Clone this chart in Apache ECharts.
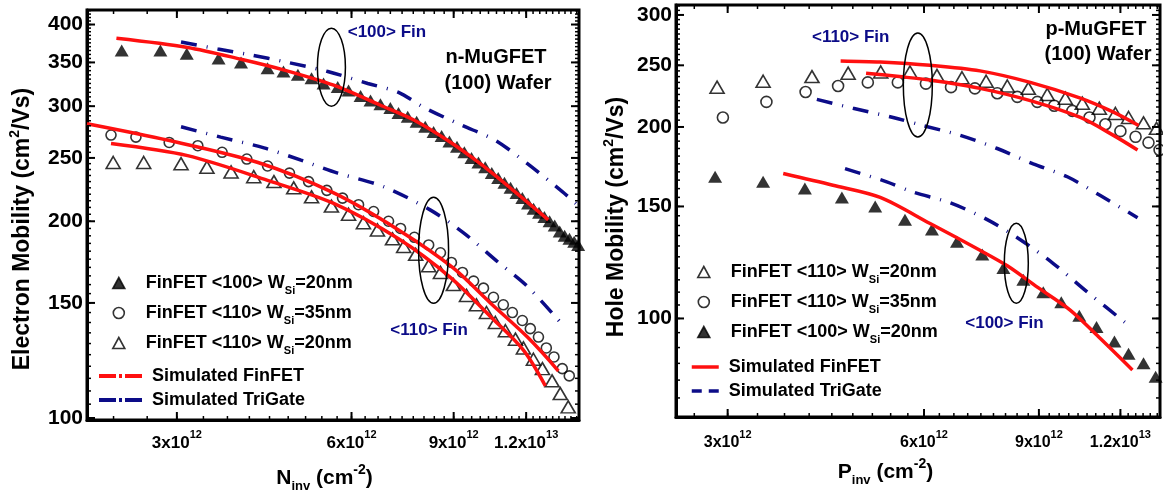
<!DOCTYPE html>
<html>
<head>
<meta charset="utf-8">
<title>MuGFET mobility</title>
<script src="https://cdn.jsdelivr.net/npm/echarts@6/dist/echarts.min.js"></script>
<style>
    html, body { margin: 0; padding: 0; background: #fff; }
    #chart { width: 1163px; height: 493px; }
</style>
</head>
<body>
<div id="chart"></div>
<script>
'use strict';

// x: inversion charge in 1e12 cm^-2, y: mobility in cm2/Vs

// ---- left panel, electrons ----
var nMeasFin100W20 = [[2.41, 365], [2.81, 365], [3.12, 361], [3.54, 355], [3.87, 350], [4.30, 343], [4.58, 339], [4.85, 335],
    [5.12, 331], [5.37, 325], [5.68, 321], [5.93, 317], [6.22, 311], [6.47, 306], [6.73, 302], [7.00, 298], [7.23, 293],
    [7.50, 289], [7.77, 284], [8.04, 279], [8.31, 274], [8.58, 270], [8.85, 265], [9.12, 260], [9.39, 255], [9.66, 250],
    [9.93, 246], [10.2, 242], [10.47, 237], [10.74, 233], [11.01, 229], [11.28, 225], [11.55, 221], [11.82, 217],
    [12.09, 213], [12.36, 209], [12.63, 206], [12.9, 203], [13.17, 200], [13.44, 197], [13.71, 193], [13.98, 190],
    [14.25, 188], [14.52, 186], [14.75, 184]];
var nMeasFin110W35 = [[2.31, 271], [2.55, 269], [2.91, 264], [3.26, 261], [3.59, 255], [3.96, 249], [4.30, 243], [4.69, 237],
    [5.06, 230], [5.44, 223], [5.79, 217], [6.17, 212], [6.55, 207], [6.95, 200], [7.29, 195], [7.70, 189], [8.15, 184],
    [8.54, 179], [8.92, 173], [9.32, 167], [9.74, 162], [10.13, 158], [10.54, 153], [10.96, 149], [11.36, 145],
    [11.82, 141], [12.2, 137], [12.6, 133], [13.0, 128], [13.4, 124], [13.85, 119], [14.24, 116]];
var nMeasFin110W20 = [[2.33, 246], [2.63, 246], [3.05, 245], [3.38, 242], [3.72, 238], [4.07, 234], [4.41, 230], [4.77, 225],
    [5.12, 218], [5.54, 211], [5.93, 205], [6.29, 199], [6.65, 194], [7.06, 188], [7.38, 183], [7.74, 178], [8.15, 171],
    [8.54, 167], [8.99, 160], [9.47, 154], [9.85, 149], [10.25, 145], [10.62, 140], [11.05, 136], [11.5, 132],
    [11.87, 128], [12.35, 123], [12.8, 119], [13.3, 114], [13.74, 109], [14.18, 104]];
var nSimFin100 = [[2.36, 381], [3.13, 369], [3.87, 354], [4.58, 341], [5.59, 323], [6.73, 301], [7.67, 286], [8.78, 266],
    [10.0, 245], [11.4, 223], [13.1, 201]];
var nSimFin110W35 = [[2.1, 282], [2.90, 266], [4.14, 246], [5.59, 221], [7.23, 194], [8.96, 170], [10.41, 150], [12.06, 133],
    [13.64, 118]];
var nSimFin110W20 = [[2.31, 263], [3.13, 252], [4.30, 231], [5.59, 213], [7.23, 188], [8.89, 164], [10.41, 143], [11.87, 127],
    [12.95, 112]];
var nSimTri100 = [[3.05, 376], [3.53, 367], [3.98, 360], [4.66, 350], [5.46, 339], [6.40, 325], [7.23, 315], [7.98, 299],
    [9.25, 281], [10.62, 266], [12.06, 245], [13.85, 222], [14.7, 212]];
var nSimTri110 = [[3.05, 279], [3.57, 269], [4.24, 259], [4.91, 248], [5.68, 237], [6.81, 226], [8.21, 208], [9.36, 192],
    [10.75, 173], [12.06, 159], [13.85, 139]];

// ---- right panel, holes ----
var pMeasFin110W20 = [[2.89, 231], [3.40, 236], [4.04, 240], [4.59, 243], [5.15, 244], [5.71, 244], [6.28, 241], [6.86, 239],
    [7.47, 236], [8.05, 232], [8.67, 230], [9.27, 225], [9.88, 222], [10.49, 218], [11.14, 214], [11.79, 210],
    [12.35, 207], [13.02, 203], [13.63, 199]];
var pMeasFin110W35 = [[2.95, 207], [3.44, 219], [3.95, 227], [4.43, 232], [4.92, 235], [5.47, 235], [6.04, 234], [6.60, 231],
    [7.18, 230], [7.77, 226], [8.34, 223], [8.95, 219], [9.50, 216], [10.13, 212], [10.76, 207], [11.38, 202],
    [12.0, 197], [12.66, 193], [13.25, 189], [13.78, 184]];
var pMeasFin100W20 = [[2.87, 167], [3.40, 164], [3.94, 160], [4.49, 155], [5.05, 150], [5.61, 143], [6.17, 138], [6.74, 132],
    [7.37, 126], [7.94, 120], [8.52, 115], [9.14, 110], [9.74, 106], [10.38, 101], [11.03, 97], [11.75, 92],
    [12.35, 88], [13.02, 85], [13.59, 81]];
var pSimFin110W20 = [[4.47, 254], [5.14, 253], [6.13, 250], [7.31, 245], [8.73, 235], [10.42, 222], [11.71, 211], [12.8, 201]];
var pSimFin110W35 = [[4.89, 243], [5.5, 240], [6.13, 237], [7.31, 230], [8.73, 220], [10.42, 207], [11.71, 194], [12.75, 184]];
var pSimFin100 = [[3.65, 169], [4.35, 162], [5.14, 155], [6.13, 141], [7.31, 128], [8.05, 121], [8.95, 112], [10.06, 103],
    [11.18, 93], [12.52, 83]];
var pSimTri110 = [[4.11, 221], [4.67, 214], [5.38, 207], [5.98, 201], [6.82, 194], [7.77, 185], [8.82, 175], [9.95, 167],
    [11.18, 156], [12.75, 144]];
var pSimTri100 = [[4.54, 172], [5.26, 164], [5.77, 158], [6.58, 152], [7.50, 143], [8.43, 133], [9.47, 122], [10.68, 110],
    [12.44, 97]];

// tick values (real units)
var xTicks = [3, 6, 9, 12];
var yTicksN = [100, 150, 200, 250, 300, 350, 400];
var yTicksP = [100, 150, 200, 250, 300];

var FONT = '"Liberation Sans", Arial, sans-serif';
var RED = '#ff1010';
var NAVY = '#0c0c88';
var TRI_DASH = [16, 10, 1, 10];

var NAME_100_20 = 'FinFET <100> W_Si=20nm';
var NAME_110_35 = 'FinFET <110> W_Si=35nm';
var NAME_110_20 = 'FinFET <110> W_Si=20nm';
var NAME_SIM_FIN = 'Simulated FinFET';
var NAME_SIM_TRI = 'Simulated TriGate';

// both axes are logarithmic: the value axes work on log10 of the data
function lg(v) { return Math.log(v) / Math.LN10; }
function lgAll(list) { return list.map(lg); }
function lgPts(pts) {
    return pts.map(function (p) { return [lg(p[0]), lg(p[1])]; });
}

// minor ticks every 1/3 x 1e12 and every 5 cm2/Vs
var xMinor = [];
for (var k = 7; k <= 44; k++) { xMinor.push(k / 3); }
var yMinorN = [];
for (var v = 100; v <= 420; v += 5) { yMinorN.push(v); }
var yMinorP = [];
for (var w = 70; w <= 310; w += 5) { yMinorP.push(w); }

function xLabel(val) {
    var n = Math.round(Math.pow(10, val));
    if (n >= 10) {
        return (n / 10) + 'x10{sup|13}';
    }
    return n + 'x10{sup|12}';
}

function yLabel(val) {
    return String(Math.round(Math.pow(10, val)));
}

var supStyle = { fontSize: 11, fontWeight: 'bold', fontFamily: FONT, lineHeight: 11, verticalAlign: 'top', color: '#000' };

function nameStyle(size, padding) {
    return {
        color: '#000', fontSize: size, fontWeight: 'bold', fontFamily: FONT, lineHeight: 30, padding: padding,
        rich: {
            sub: { fontSize: 13, fontWeight: 'bold', fontFamily: FONT, lineHeight: 13, verticalAlign: 'bottom', color: '#000' },
            sup: { fontSize: 14, fontWeight: 'bold', fontFamily: FONT, lineHeight: 14, verticalAlign: 'top', color: '#000' }
        }
    };
}

function logAxis(grid, range, label, name, nameGap, nameText) {
    return {
        type: 'value',
        gridIndex: grid,
        min: lg(range[0]),
        max: lg(range[1]),
        axisLine: { show: true, onZero: false, lineStyle: { color: '#000', width: 3 } },
        // ticks are drawn below as graphic lines (major + minor, on all four sides)
        axisTick: { show: false },
        axisLabel: label,
        splitLine: { show: false },
        axisPointer: { show: false },
        name: name,
        nameLocation: 'middle',
        nameGap: nameGap,
        nameMoveOverlap: false,
        nameTextStyle: nameText
    };
}

function xLabelOpt(size, margin) {
    return {
        show: true, customValues: lgAll(xTicks), formatter: xLabel, margin: margin,
        color: '#000', fontSize: size, fontWeight: 'bold', fontFamily: FONT, lineHeight: 28,
        rich: { sup: supStyle }
    };
}

function yLabelOpt(ticks) {
    return {
        show: true, customValues: lgAll(ticks), formatter: yLabel, margin: 4,
        color: '#000', fontSize: 21, fontWeight: 'bold', fontFamily: FONT
    };
}

var xRangeN = [2.1, 14.8];
var yRangeN = [99.3, 421];
var xRangeP = [2.5, 13.8];
var yRangeP = [70, 311];

var xAxes = [
    logAxis(0, xRangeN, xLabelOpt(17, 9), 'N{sub|inv} (cm{sup|-2})', 43, nameStyle(21, [0, 17, 0, 0])),
    logAxis(1, xRangeP, xLabelOpt(16, 12), 'P{sub|inv} (cm{sup|-2})', 40, nameStyle(21, [0, 65, 0, 0]))
];
var yAxes = [
    logAxis(0, yRangeN, yLabelOpt(yTicksN), 'Electron Mobility (cm{sup|2}/Vs)', 49, nameStyle(23, [0, 28, 0, 0])),
    logAxis(1, yRangeP, yLabelOpt(yTicksP), 'Hole Mobility (cm{sup|2}/Vs)', 44, nameStyle(23, [0, 12, 0, 0]))
];

function simLine(name, data, axis, color, dash) {
    return {
        name: name, type: 'line', xAxisIndex: axis, yAxisIndex: axis, data: lgPts(data),
        smooth: 0.3, symbol: 'none', z: 4, silent: true,
        lineStyle: { color: color, width: 3.5, type: dash || 'solid', cap: 'butt' },
        itemStyle: { color: color }
    };
}

function measDots(name, data, axis, shape, size, filled) {
    return {
        name: name, type: 'scatter', xAxisIndex: axis, yAxisIndex: axis, data: lgPts(data),
        symbol: shape, symbolSize: size, z: 3, silent: true,
        itemStyle: {
            color: filled ? '#000' : 'rgba(255,255,255,0)',
            borderColor: '#000',
            borderWidth: filled ? 0 : 1.6
        }
    };
}

var series = [
    measDots(NAME_100_20, nMeasFin100W20, 0, 'triangle', [14, 12], true),
    measDots(NAME_110_35, nMeasFin110W35, 0, 'circle', 10, false),
    measDots(NAME_110_20, nMeasFin110W20, 0, 'triangle', [14, 12], false),
    simLine(NAME_SIM_FIN, nSimFin100, 0, RED),
    simLine(NAME_SIM_FIN, nSimFin110W35, 0, RED),
    simLine(NAME_SIM_FIN, nSimFin110W20, 0, RED),
    simLine(NAME_SIM_TRI, nSimTri100, 0, NAVY, TRI_DASH),
    simLine(NAME_SIM_TRI, nSimTri110, 0, NAVY, TRI_DASH),

    measDots(NAME_110_20, pMeasFin110W20, 1, 'triangle', [14, 12], false),
    measDots(NAME_110_35, pMeasFin110W35, 1, 'circle', 11, false),
    measDots(NAME_100_20, pMeasFin100W20, 1, 'triangle', [14, 12], true),
    simLine(NAME_SIM_FIN, pSimFin110W20, 1, RED),
    simLine(NAME_SIM_FIN, pSimFin110W35, 1, RED),
    simLine(NAME_SIM_FIN, pSimFin100, 1, RED),
    simLine(NAME_SIM_TRI, pSimTri110, 1, NAVY, TRI_DASH),
    simLine(NAME_SIM_TRI, pSimTri100, 1, NAVY, TRI_DASH)
];

var legendText = {
    color: '#000', fontSize: 18, fontWeight: 'bold', fontFamily: FONT, lineHeight: 26, padding: [0, 0, 0, 16],
    rich: { sub: { fontSize: 11, fontWeight: 'bold', fontFamily: FONT, lineHeight: 9, verticalAlign: 'bottom', color: '#000' } }
};
var legendLineText = { color: '#000', fontSize: 18, fontWeight: 'bold', fontFamily: FONT, lineHeight: 20, padding: [0, 0, 0, 5] };

function legendName(name) {
    return name.replace('W_Si', 'W{sub|Si}');
}

function markLegend(names, left, top) {
    return {
        data: names, orient: 'vertical', left: left, top: top, padding: 0,
        itemWidth: 12, itemHeight: 11, itemGap: 4, selectedMode: false,
        itemStyle: { borderWidth: 1.6 },
        textStyle: legendText, formatter: legendName
    };
}

// line samples only: the symbol ECharts adds to line legend icons is made invisible
function lineLegend(items, left, top, width) {
    return {
        data: items, orient: 'vertical', left: left, top: top, padding: 0,
        itemWidth: width, itemHeight: 14, itemGap: 4, selectedMode: false,
        lineStyle: { width: 3.5 },
        itemStyle: { color: 'rgba(0,0,0,0)', borderColor: 'rgba(0,0,0,0)', borderWidth: 0, opacity: 0 },
        textStyle: legendLineText
    };
}

var chart = echarts.init(document.getElementById('chart'), null, { renderer: 'canvas' });

chart.setOption({
    animation: false,
    backgroundColor: '#fff',
    textStyle: { fontFamily: FONT },
    grid: [
        { left: 87, top: 10, right: 584, bottom: 73, show: true, borderColor: '#000', borderWidth: 3,
            backgroundColor: 'rgba(0,0,0,0)', outerBoundsMode: 'none', containLabel: false },
        { left: 676, top: 5, right: 3, bottom: 76, show: true, borderColor: '#000', borderWidth: 3,
            backgroundColor: 'rgba(0,0,0,0)', outerBoundsMode: 'none', containLabel: false }
    ],
    legend: [
        markLegend([NAME_100_20, NAME_110_35, NAME_110_20], 112, 270),
        lineLegend([
            { name: NAME_SIM_FIN, lineStyle: { type: [17, 3, 3, 3], width: 4 } },
            { name: NAME_SIM_TRI, lineStyle: { type: [17, 3, 3, 3], width: 4 } }
        ], 97, 366, 43),
        markLegend([NAME_110_20, NAME_110_35, NAME_100_20], 697, 259),
        lineLegend([
            { name: NAME_SIM_FIN },
            { name: NAME_SIM_TRI, lineStyle: { type: [10, 7] } }
        ], 690, 357, 27)
    ],
    xAxis: xAxes,
    yAxis: yAxes,
    series: series
});

function toPx(panel, pt) {
    return chart.convertToPixel({ xAxisIndex: panel, yAxisIndex: panel }, [lg(pt[0]), lg(pt[1])]);
}

var elements = [];

// inward tick marks on all four sides of a panel
function addTicks(panel, xRange, yRange, xMaj, xMin, yMaj, yMin) {
    var lo = toPx(panel, [xRange[0], yRange[0]]);
    var hi = toPx(panel, [xRange[1], yRange[1]]);
    function seg(x1, y1, x2, y2, width) {
        elements.push({
            type: 'line', silent: true, z: 5,
            shape: { x1: x1, y1: y1, x2: x2, y2: y2 },
            style: { stroke: '#000', lineWidth: width }
        });
    }
    function xSet(vals, len, width) {
        vals.forEach(function (t) {
            if (t < xRange[0] || t > xRange[1]) { return; }
            var px = toPx(panel, [t, yRange[0]])[0];
            seg(px, lo[1], px, lo[1] - len, width);
            seg(px, hi[1], px, hi[1] + len, width);
        });
    }
    function ySet(vals, len, width) {
        vals.forEach(function (t) {
            if (t < yRange[0] || t > yRange[1]) { return; }
            var py = toPx(panel, [xRange[0], t])[1];
            seg(lo[0], py, lo[0] + len, py, width);
            seg(hi[0], py, hi[0] - len, py, width);
        });
    }
    xSet(xMin, 4, 1.5);
    xSet(xMaj, 8, 2);
    ySet(yMin, 4, 1.5);
    ySet(yMaj, 8, 2);
}

addTicks(0, xRangeN, yRangeN, xTicks, xMinor, yTicksN, yMinorN);
addTicks(1, xRangeP, yRangeP, xTicks, xMinor, yTicksP, yMinorP);

// annotations: ellipses grouping curves and the orientation / device labels
var notes = [
    { panel: 0, at: [5.91, 389], text: '<100> Fin', color: NAVY, size: 17 },
    { panel: 0, at: [7.0, 136.3], text: '<110> Fin', color: NAVY, size: 17 },
    { panel: 0, at: [8.71, 356.4], text: 'n-MuGFET', color: '#000', size: 20 },
    { panel: 0, at: [8.68, 325.3], text: '(100) Wafer', color: '#000', size: 20 },
    { panel: 1, at: [4.04, 277], text: '<110> Fin', color: NAVY, size: 17 },
    { panel: 1, at: [6.94, 98.2], text: '<100> Fin', color: NAVY, size: 17 },
    { panel: 1, at: [9.21, 284.2], text: 'p-MuGFET', color: '#000', size: 20 },
    { panel: 1, at: [9.18, 259.6], text: '(100) Wafer', color: '#000', size: 20 }
];
var rings = [
    { panel: 0, at: [5.54, 344.2], rx: 14, ry: 39 },
    { panel: 0, at: [8.31, 180.6], rx: 15, ry: 53 },
    { panel: 1, at: [5.87, 232.8], rx: 14.5, ry: 52 },
    { panel: 1, at: [8.31, 122.1], rx: 12, ry: 40 }
];

rings.forEach(function (r) {
    var p = toPx(r.panel, r.at);
    elements.push({
        type: 'ellipse', silent: true, z: 10,
        shape: { cx: p[0], cy: p[1], rx: r.rx, ry: r.ry },
        style: { fill: 'none', stroke: '#000', lineWidth: 1.5 }
    });
});
notes.forEach(function (n) {
    var p = toPx(n.panel, n.at);
    elements.push({
        type: 'text', silent: true, z: 10, x: p[0], y: p[1],
        style: {
            text: n.text, fill: n.color, fontSize: n.size, fontWeight: 'bold', fontFamily: FONT,
            align: 'left', verticalAlign: 'middle'
        }
    });
});

chart.setOption({ graphic: { elements: elements } });
</script>
</body>
</html>
